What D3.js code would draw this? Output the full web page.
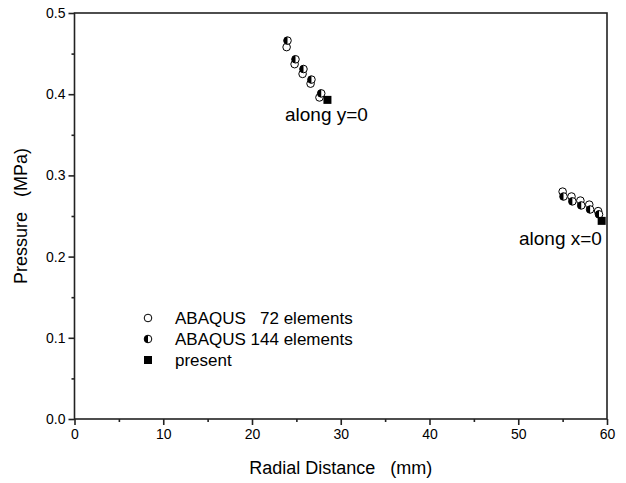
<!DOCTYPE html>
<html>
<head>
<meta charset="utf-8">
<script src="https://cdn.jsdelivr.net/npm/d3@7"></script>
<style>
  body { margin: 0; background: #fff; }
  text { font-family: "Liberation Sans", Arial, sans-serif; fill: #000; }
</style>
</head>
<body>
<svg id="chart" width="626" height="483"></svg>
<script>
// ABAQUS 72 elements (open circles)
const abaqus72X = [23.9, 24.8, 25.7, 26.6, 27.6, 55.0, 56.0, 57.0, 58.0, 59.0];
const abaqus72Y = [0.458, 0.437, 0.425, 0.413, 0.396, 0.280, 0.274, 0.269, 0.264, 0.256];
// ABAQUS 144 elements (half-filled circles)
const abaqus144X = [24.0, 24.9, 25.8, 26.7, 27.8, 55.1, 56.1, 57.1, 58.1, 59.1];
const abaqus144Y = [0.466, 0.443, 0.431, 0.418, 0.401, 0.274, 0.268, 0.263, 0.258, 0.252];
// present (filled squares)
const presentX = [28.5, 59.4];
const presentY = [0.393, 0.244];

const xTicks = [0, 10, 20, 30, 40, 50, 60];
const yTicks = [0.0, 0.1, 0.2, 0.3, 0.4, 0.5];
const legendLabels = ["ABAQUS   72 elements", "ABAQUS 144 elements", "present"];

const margin = { left: 74.5, right: 19, top: 13, bottom: 64 };
const width = 626, height = 483;
const plotW = width - margin.left - margin.right;
const plotH = height - margin.top - margin.bottom;

const svg = d3.select("#chart");
const chart = svg.append("g").attr("transform", `translate(${margin.left},${margin.top})`);

const x = d3.scaleLinear().domain([0, 60]).range([0, plotW]);
const y = d3.scaleLinear().domain([0, 0.5]).range([plotH, 0]);

// frame
chart.append("rect")
  .attr("width", plotW).attr("height", plotH)
  .attr("fill", "none").attr("stroke", "#222").attr("stroke-width", 1.6);

// x axis
const xAxisG = chart.append("g")
  .attr("transform", `translate(0,${plotH})`)
  .call(d3.axisBottom(x).tickValues(xTicks).tickSize(6).tickPadding(4).tickFormat(d3.format("d")));
xAxisG.select(".domain").remove();
xAxisG.selectAll(".tick line").attr("stroke", "#222").attr("stroke-width", 1.6);
xAxisG.selectAll(".tick text").attr("font-size", 14).attr("font-family", "Liberation Sans, Arial, sans-serif");
chart.append("g")
  .attr("transform", `translate(0,${plotH})`)
  .call(d3.axisBottom(x).tickValues(d3.range(5, 60, 10)).tickSize(3).tickFormat(""))
  .call(g => g.select(".domain").remove())
  .call(g => g.selectAll(".tick line").attr("stroke", "#222").attr("stroke-width", 1.6));

// y axis
const yAxisG = chart.append("g")
  .call(d3.axisLeft(y).tickValues(yTicks).tickSize(6).tickPadding(3).tickFormat(d3.format(".1f")));
yAxisG.select(".domain").remove();
yAxisG.selectAll(".tick line").attr("stroke", "#222").attr("stroke-width", 1.6);
yAxisG.selectAll(".tick text").attr("font-size", 14).attr("font-family", "Liberation Sans, Arial, sans-serif");
chart.append("g")
  .call(d3.axisLeft(y).tickValues(d3.range(0.05, 0.5, 0.1)).tickSize(3).tickFormat(""))
  .call(g => g.select(".domain").remove())
  .call(g => g.selectAll(".tick line").attr("stroke", "#222").attr("stroke-width", 1.6));

// axis titles
svg.append("text")
  .attr("x", margin.left + plotW / 2).attr("y", 474)
  .attr("text-anchor", "middle").attr("font-size", 18)
  .attr("xml:space", "preserve")
  .text("Radial Distance   (mm)");
svg.append("text")
  .attr("transform", `translate(27,${margin.top + plotH / 2}) rotate(-90)`)
  .attr("text-anchor", "middle").attr("font-size", 18)
  .attr("xml:space", "preserve")
  .text("Pressure   (MPa)");

const r = 3.8;
const halfArc = d3.arc().innerRadius(0).outerRadius(r).startAngle(Math.PI).endAngle(2 * Math.PI);

function openCircle(g, cx, cy) {
  g.append("circle").attr("cx", cx).attr("cy", cy).attr("r", r)
    .attr("fill", "#fff").attr("stroke", "#000").attr("stroke-width", 1);
}
function halfCircle(g, cx, cy) {
  g.append("circle").attr("cx", cx).attr("cy", cy).attr("r", r)
    .attr("fill", "#fff").attr("stroke", "#000").attr("stroke-width", 1);
  g.append("path").attr("d", halfArc()).attr("transform", `translate(${cx},${cy})`).attr("fill", "#000");
}
function square(g, cx, cy) {
  g.append("rect").attr("x", cx - 4).attr("y", cy - 4).attr("width", 8).attr("height", 8).attr("fill", "#000");
}

const marks = chart.append("g");
abaqus72X.forEach((d, i) => openCircle(marks, x(d), y(abaqus72Y[i])));
abaqus144X.forEach((d, i) => halfCircle(marks, x(d), y(abaqus144Y[i])));
presentX.forEach((d, i) => square(marks, x(d), y(presentY[i])));

// annotations
svg.append("text").attr("x", 285).attr("y", 121).attr("font-size", 19).text("along y=0");
svg.append("text").attr("x", 519).attr("y", 245).attr("font-size", 19).text("along x=0");

// legend
const legend = svg.append("g");
const legendY = [318, 339, 360];
openCircle(legend, 148, legendY[0]);
halfCircle(legend, 148, legendY[1]);
square(legend, 148, legendY[2]);
legendLabels.forEach((t, i) => {
  legend.append("text").attr("x", 175).attr("y", legendY[i] + 6)
    .attr("font-size", 17).attr("xml:space", "preserve").text(t);
});
</script>
</body>
</html>
